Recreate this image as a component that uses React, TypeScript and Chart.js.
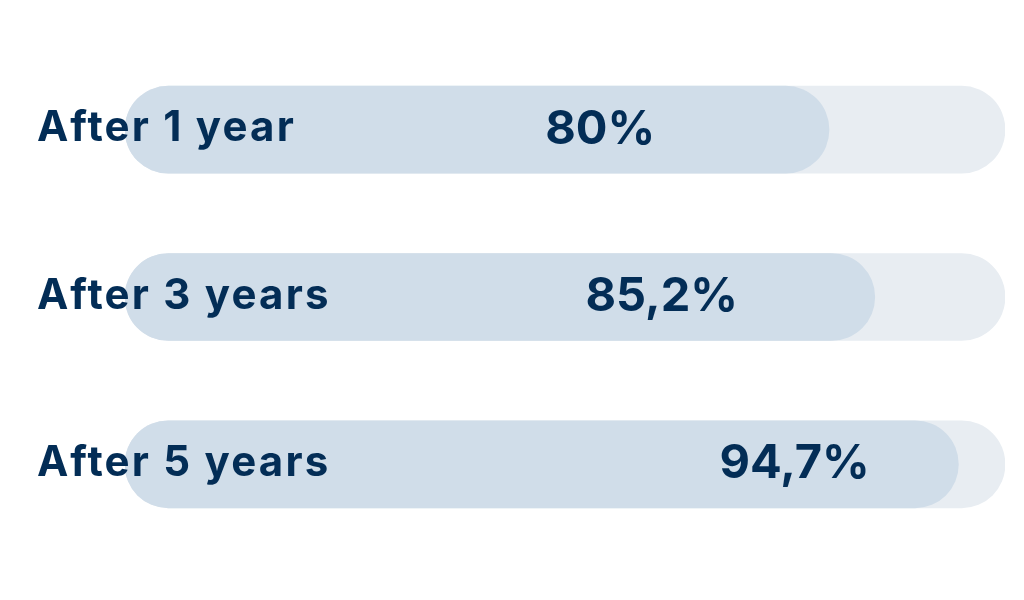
import React, { useEffect, useRef } from "react";
import { Chart, registerables } from "chart.js";

Chart.register(...registerables);

const categories = ["After 1 year", "After 3 years", "After 5 years"];
const values = [80, 85.2, 94.7];
const valueLabels = ["80%", "85,2%", "94,7%"];
const trackValues = [100, 100, 100];

const TEXT = "#032d56";
const FILL = "#d0dde9";
const TRACK = "#e8edf2";

const labelPlugin = {
  id: "barLabels",
  afterDatasetsDraw(chart: any) {
    const { ctx, chartArea } = chart;
    const meta = chart.getDatasetMeta(1);
    const xs = chart.scales.x;
    const anchors = [54, 61, 76.1];
    ctx.save();
    ctx.fillStyle = TEXT;
    ctx.textBaseline = "middle";
    meta.data.forEach((bar: any, i: number) => {
      ctx.font = "700 42px Inter";
      (ctx as any).letterSpacing = "2.2px";
      ctx.textAlign = "left";
      ctx.fillText(categories[i], chartArea.left - 88, bar.y - 1);
      ctx.font = "700 47px Inter";
      (ctx as any).letterSpacing = "0px";
      ctx.textAlign = "center";
      ctx.fillText(valueLabels[i], xs.getPixelForValue(anchors[i]), bar.y);
    });
    ctx.restore();
  },
};

export default function App() {
  const ref = useRef<HTMLCanvasElement | null>(null);
  useEffect(() => {
    if (!ref.current) return;
    const chart = new Chart(ref.current, {
      type: "bar",
      data: {
        labels: categories,
        datasets: [
          {
            data: values,
            backgroundColor: FILL,
            borderRadius: 44,
            borderSkipped: false,
            barThickness: 87,
            order: 1,
          },
          {
            data: trackValues,
            backgroundColor: TRACK,
            borderRadius: 44,
            borderSkipped: false,
            barThickness: 87,
            order: 2,
          },
        ],
      },
      options: {
        indexAxis: "y",
        animation: false,
        responsive: true,
        maintainAspectRatio: false,
        datasets: { bar: { grouped: false } },
        layout: { padding: { left: 125, right: 19, top: 46, bottom: 52 } },
        scales: {
          x: { display: false, min: 0, max: 100 },
          y: { display: false },
        },
        plugins: { legend: { display: false }, tooltip: { enabled: false } },
      },
      plugins: [labelPlugin],
    });
    return () => chart.destroy();
  }, []);
  return (
    <div style={{ position: "fixed", left: 0, top: 0, width: 1024, height: 600, background: "#fff" }}>
      <canvas ref={ref} />
    </div>
  );
}
